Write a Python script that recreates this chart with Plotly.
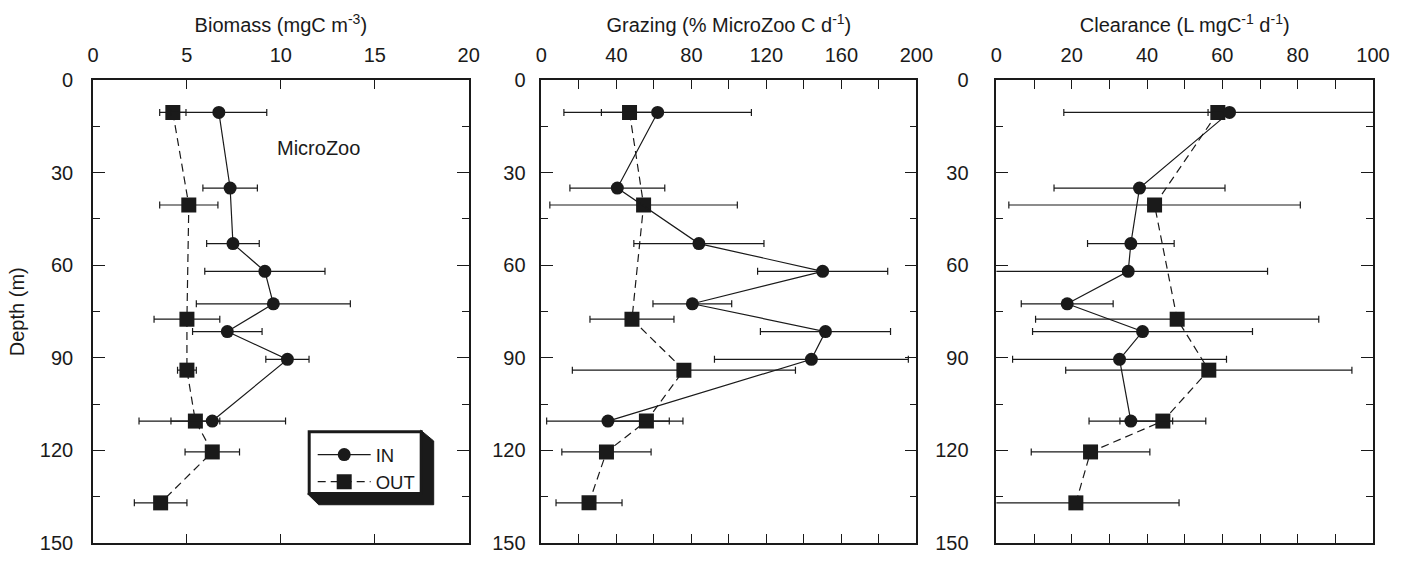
import plotly.graph_objects as go

# ---------------- data ----------------
depth_in = [10.5, 35, 53, 62, 72.5, 81.5, 90.5, 110.5]
depth_out = [10.5, 40.5, 77.5, 94, 110.5, 120.5, 137]

biomass_in = [6.7, 7.3, 7.45, 9.15, 9.6, 7.15, 10.35, 6.35]
biomass_in_err = [2.55, 1.45, 1.4, 3.2, 4.1, 1.85, 1.15, 3.9]
biomass_out = [4.25, 5.1, 5.0, 5.0, 5.45, 6.35, 3.6]
biomass_out_err = [0.7, 1.55, 1.75, 0.5, 1.3, 1.45, 1.4]

grazing_in = [62, 40.5, 84, 150, 80.5, 151.5, 144, 35.5]
grazing_in_err = [50, 25.3, 34.7, 34.7, 21, 34.7, 51.7, 32.7]
grazing_out = [47, 54.5, 48.3, 76, 56, 34.7, 25.4]
grazing_out_err = [15, 50, 22.4, 59.5, 19.5, 23.8, 17.6]

clear_in = [61.9, 38.0, 35.7, 35.0, 18.8, 38.8, 32.7, 35.7]
clear_in_err = [44, 22.7, 11.5, 37, 12.2, 29.2, 28.4, 11.1]
clear_out = [58.8, 42.0, 48.0, 56.4, 44.2, 25.0, 21.1]
clear_out_err = [2.6, 38.7, 37.6, 38, 11.4, 15.75, 27.4]

x_titles = ["Biomass (mgC m<sup>-3</sup>)",
            "Grazing (% MicroZoo C d<sup>-1</sup>)",
            "Clearance (L mgC<sup>-1</sup> d<sup>-1</sup>)"]
x_ranges = [[0, 20], [0, 200], [0, 100]]
x_dticks = [5, 40, 20]
x_minor = [None, 20, 10]
y_ticks = [0, 30, 60, 90, 120, 150]

# ---------------- layout geometry (pixels) ----------------
W, H = 1404, 566
L, R, T, B = 93.3, 1373.3, 80, 552
PW, PH = R - L, B - T
panels_px = [(93.3, 469.0), (541.7, 916.7), (996.7, 1373.3)]
domains = [[(a - L) / PW, (b - L) / PW] for a, b in panels_px]


def px_x(p):
    return (p - L) / PW


def px_y(p):
    return 1 - (p - T) / PH


FONT = "Liberation Sans, Arial, Helvetica, sans-serif"
BLACK = "#1a1a1a"

fig = go.Figure()

datasets = [
    (biomass_in, biomass_in_err, biomass_out, biomass_out_err),
    (grazing_in, grazing_in_err, grazing_out, grazing_out_err),
    (clear_in, clear_in_err, clear_out, clear_out_err),
]

for i, (vin, ein, vout, eout) in enumerate(datasets):
    xa = "x" if i == 0 else f"x{i+1}"
    ya = "y" if i == 0 else f"y{i+1}"
    fig.add_trace(go.Scatter(
        x=vout, y=depth_out, xaxis=xa, yaxis=ya, name="OUT",
        mode="lines+markers",
        line=dict(color=BLACK, width=1.2, dash="8px,5px"),
        marker=dict(symbol="square", size=15, color=BLACK),
        error_x=dict(type="data", array=eout, color=BLACK, thickness=1.2, width=3.5),
        showlegend=(i == 0), legendrank=2,
    ))
    fig.add_trace(go.Scatter(
        x=vin, y=depth_in, xaxis=xa, yaxis=ya, name="IN",
        mode="lines+markers",
        line=dict(color=BLACK, width=1.2),
        marker=dict(symbol="circle", size=13, color=BLACK),
        error_x=dict(type="data", array=ein, color=BLACK, thickness=1.2, width=3.5),
        showlegend=(i == 0), legendrank=1,
    ))

y_standoffs = [14, 10, 22]
for i in range(3):
    xkey = "xaxis" if i == 0 else f"xaxis{i+1}"
    ykey = "yaxis" if i == 0 else f"yaxis{i+1}"
    xa = dict(
        domain=domains[i], range=x_ranges[i], side="top", anchor="y" if i == 0 else f"y{i+1}",
        dtick=x_dticks[i], tick0=0,
        showline=True, linecolor=BLACK, linewidth=1.6, mirror="ticks",
        ticks="inside", ticklen=9, tickwidth=1.2, tickcolor=BLACK,
        showgrid=False, zeroline=False,
        tickfont=dict(family=FONT, size=20, color=BLACK),
        ticklabelstandoff=8,
        title=dict(text=x_titles[i], font=dict(family=FONT, size=20, color=BLACK), standoff=6),
    )
    if x_minor[i]:
        xa["minor"] = dict(dtick=x_minor[i], ticks="inside", ticklen=9, tickwidth=1.2, tickcolor=BLACK, showgrid=False)
    ya = dict(
        domain=[0, 1], range=[150, 0], anchor="x" if i == 0 else f"x{i+1}",
        tickvals=y_ticks,
        showline=True, linecolor=BLACK, linewidth=1.6, mirror="ticks",
        ticks="inside", ticklen=12, tickwidth=1.2, tickcolor=BLACK,
        minor=dict(dtick=15, ticks="inside", ticklen=7, tickwidth=1.2, tickcolor=BLACK, showgrid=False),
        showgrid=False, zeroline=False,
        tickfont=dict(family=FONT, size=20, color=BLACK),
        ticklabelstandoff=y_standoffs[i],
    )
    fig.layout[xkey] = xa
    fig.layout[ykey] = ya

# Depth label
fig.add_annotation(text="Depth (m)", xref="paper", yref="paper",
                   x=px_x(17), y=0.5, textangle=-90, showarrow=False,
                   xanchor="center", yanchor="middle",
                   font=dict(family=FONT, size=20, color=BLACK))

# MicroZoo label
fig.add_annotation(text="MicroZoo", xref="x", yref="y", x=12, y=22,
                   showarrow=False, xanchor="center", yanchor="middle",
                   font=dict(family=FONT, size=20, color=BLACK))

# Legend frame with 3-D shadow
pts = [(421, 437), (434, 448), (434, 513), (319, 513), (308, 502), (421, 502)]
path = "M " + " L ".join(f"{px_x(a):.5f},{px_y(b):.5f}" for a, b in pts) + " Z"
fig.add_shape(type="path", path=path, xref="paper", yref="paper",
              fillcolor=BLACK, line=dict(color=BLACK, width=1), layer="above")
fig.add_shape(type="rect", xref="paper", yref="paper",
              x0=px_x(309.5), x1=px_x(421.5), y0=px_y(438.5), y1=px_y(501.5),
              fillcolor="white", line=dict(color=BLACK, width=3), layer="above")

fig.update_layout(
    width=W, height=H,
    margin=dict(l=L, r=W - R, t=T, b=H - B),
    paper_bgcolor="white", plot_bgcolor="white",
    showlegend=True,
    legend=dict(x=px_x(313), y=px_y(443), xanchor="left", yanchor="top",
                bgcolor="rgba(0,0,0,0)", borderwidth=0,
                font=dict(family=FONT, size=18.5, color=BLACK),
                itemwidth=53, traceorder="normal"),
)

fig.write_html("out.html")
